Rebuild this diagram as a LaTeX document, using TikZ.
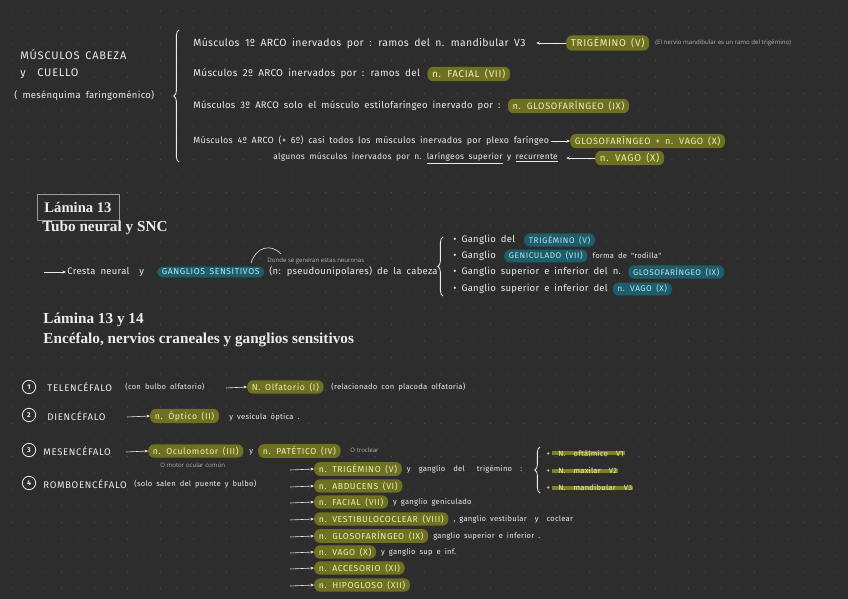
\documentclass[tikz,border=0pt]{standalone}
\usepackage{fontspec}
\setmainfont{Liberation Serif}
\newfontfamily\handfont{Fira Sans}[LetterSpace=3.0,WordSpace=1.8]
\newfontfamily\capfont{Fira Sans}[LetterSpace=7.0,WordSpace=1.6]
\newfontfamily\notefont{Open Sans}
\usetikzlibrary{arrows.meta,decorations.pathreplacing,positioning}
\definecolor{bgdark}{HTML}{2D2D2D}
\definecolor{dotgray}{HTML}{4E4E4E}
\definecolor{handwhite}{HTML}{ECECEC}
\definecolor{notegray}{HTML}{B4B4B4}
\definecolor{olivefill}{HTML}{6E7122}
\definecolor{olivebar}{HTML}{7F8224}
\definecolor{olivetext}{HTML}{EEF0B4}
\definecolor{tealfill}{HTML}{1E5E6C}
\definecolor{tealtext}{HTML}{B8E6EE}
\definecolor{boxgray}{HTML}{9C9C9C}
\tikzset{
  hand/.style={inner sep=1pt, anchor=west, text=handwhite, font=\handfont\fontsize{8.1}{9}\selectfont},
  handsm/.style={hand, font=\handfont\fontsize{6.5}{7}\selectfont},
  handcap/.style={hand, font=\capfont\fontsize{8.2}{9}\selectfont},
  handbig/.style={hand, font=\capfont\fontsize{9.4}{10}\selectfont},
  note/.style={inner sep=1pt, anchor=west, text=notegray, font=\notefont\fontsize{5.2}{6}\selectfont},
  hlolive/.style={hand, fill=olivefill, text=olivetext, rounded corners=5pt,
                  inner xsep=4pt, inner ysep=2pt, font=\capfont\fontsize{7.4}{8}\selectfont},
  hltop/.style={hlolive, font=\capfont\fontsize{8.4}{9}\selectfont},
  hlteal/.style={hlolive, fill=tealfill, text=tealtext, font=\capfont\fontsize{7}{8}\selectfont},
  subbar/.style={handsm, text=olivetext, path picture={\fill[olivebar]
      ([xshift=6pt,yshift=1.6pt]path picture bounding box.south west) rectangle
      ([yshift=5pt]path picture bounding box.south east);}},
  heading/.style={anchor=west, inner sep=1pt, text=handwhite, font=\bfseries\fontsize{13}{15}\selectfont},
  lamina/.style={draw=boxgray, line width=0.6pt, text=handwhite, font=\bfseries\fontsize{12.5}{14}\selectfont,
                 minimum width=2.46cm, minimum height=0.78cm},
  circnum/.style={circle, draw=handwhite, line width=0.7pt, minimum size=0.4cm, inner sep=0pt,
                  text=handwhite, font=\handfont\bfseries\fontsize{6}{7}\selectfont},
  flow/.style={-{Stealth[length=3pt,width=2.6pt]}, line width=0.5pt, draw=handwhite},
  bracel/.style={decorate, decoration={brace, amplitude=4.5pt}, line width=0.7pt, draw=handwhite},
  thinline/.style={line width=0.5pt, draw=handwhite}
}

\begin{document}
\begin{tikzpicture}[x=0.03cm,y=-0.03cm]

%% Paper and dot grid
\fill[bgdark] (0,0) rectangle (848,599);
\useasboundingbox (0,0) rectangle (848,599);
\foreach \i in {0,...,50} {
  \foreach \j in {0,...,35} { \fill[dotgray] (12+16.5*\i, 11+16.5*\j) circle[radius=0.55pt]; }
}

%% Músculos cabeza y cuello
\node[handbig] (mtitle) at (19,55) {MÚSCULOS CABEZA};
\node[handbig] (my)     at (19,75) {y};
\node[handbig] (mcuello) at (36,73) {CUELLO};
\node[hand]    (mesen)  at (13,96) {( mesénquima faringoménico)};
\draw[bracel] (179,162) -- (179,30);

%   1er arco
\node[hand, font=\handfont\fontsize{8.9}{10}\selectfont] (arco1) at (192,43)
  {Músculos 1º ARCO inervados por : ramos del n. mandibular V3};
\node[hltop]   (trig1)  at (566,43) {TRIGÉMINO (V)};
\node[note]    (trignote) at (654,43) {(El nervio mandibular es un ramo del trigémino)};
\draw[flow, shorten >=8pt] (trig1.west) -- (arco1.east);
%   2o arco
\node[hand, font=\handfont\fontsize{8.5}{10}\selectfont] (arco2) at (192,74)
  {Músculos 2º ARCO inervados por : ramos del};
\node[hltop, right=5pt of arco2] (facial1) {n. FACIAL (VII)};
%   3er arco
\node[hand, font=\handfont\fontsize{8.1}{10}\selectfont] (arco3) at (192,106)
  {Músculos 3º ARCO solo el músculo estilofaríngeo inervado por :};
\node[hltop, font=\capfont\fontsize{7.9}{9}\selectfont, right=5pt of arco3] (glosol) {n. GLOSOFARÍNGEO (IX)};
%   4o arco
\node[hand, font=\handfont\fontsize{7.6}{9}\selectfont] (arco4) at (192,141)
  {Músculos 4º ARCO (+ 6º) casi todos los músculos inervados por plexo faríngeo};
\node[hltop, font=\capfont\fontsize{7.8}{9}\selectfont] (glovago) at (570,141) {GLOSOFARÍNGEO + n. VAGO (X)};
\draw[flow] (arco4.east) -- (glovago.west);
\node[handsm, font=\handfont\fontsize{7.2}{8}\selectfont] (arco5) at (272,158)
  {algunos músculos inervados por n. \underline{laríngeos superior} y \underline{recurrente}};
\node[hltop]   (vago1)  at (595,158) {n. VAGO (X)};
\draw[flow, shorten >=6pt] (vago1.west) -- (arco5.east);

%% Lámina 13
\node[lamina]  (lam13)  at (78,207) {Lámina 13};
\node[heading] (tubo)   at (41,228) {Tubo neural y SNC};

\coordinate (cstart) at (44,272);
\node[hand]    (cresta) at (66,272) {Cresta neural \ y};
\node[hlteal, font=\capfont\fontsize{7.3}{8}\selectfont] (gsens) at (157,272) {GANGLIOS SENSITIVOS};
\node[hand, right=3pt of gsens] (pseudo) {(n: pseudounipolares) de la cabeza};
\draw[flow] (cstart) -- (cresta.west);
\node[note]    (dnote)  at (266,261) {Donde se generan estas neuronas};
\coordinate (arcA) at (251,263);
\coordinate (arcB) at (281,254);
\draw[thinline] (arcA) .. controls (256,247) and (271,243) .. (arcB);

\draw[bracel] (443,296) -- (443,237);
\node[hand]   (gan1)  at (452,240) {• Ganglio del};
\node[hlteal] (gan1h) at (524,240) {TRIGÉMINO (V)};
\node[hand]   (gan2)  at (452,256) {• Ganglio};
\node[hlteal] (gan2h) at (504,256) {GENICULADO (VII)};
\node[handsm, right=3pt of gan2h] (gan2r) {forma de "rodilla"};
\node[hand]   (gan3)  at (452,272) {• Ganglio superior e inferior del n.};
\node[hlteal, right=5pt of gan3] (gan3h) {GLOSOFARÍNGEO (IX)};
\node[hand]   (gan4)  at (452,289) {• Ganglio superior e inferior del};
\node[hlteal, right=3pt of gan4] (gan4h) {n. VAGO (X)};

%% Lámina 13 y 14
\node[heading] (lam14) at (42,320) {Lámina 13 y 14};
\node[heading] (encef) at (42,340) {Encéfalo, nervios craneales y ganglios sensitivos};

%   1 telencéfalo
\node[circnum] (c1) at (29,387) {1};
\node[handcap] (tele)  at (46,387) {TELENCÉFALO};
\node[handsm]  (teleb) at (124,387) {(con bulbo olfatorio)};
\coordinate (a1) at (226,388);
\node[hlolive] (olf)   at (247,387) {N. Olfatorio (I)};
\node[handsm]  (olfr)  at (330,387) {(relacionado con placoda olfatoria)};
\draw[flow] (a1) -- (olf.west);
%   2 diencéfalo
\node[circnum] (c2) at (29,415) {2};
\node[handcap] (dien)  at (46,416) {DIENCÉFALO};
\coordinate (a2) at (127,417);
\node[hlolive] (opt)   at (150,416) {n. Óptico (II)};
\node[handsm]  (optr)  at (228,417) {y vesícula óptica .};
\draw[flow] (a2) -- (opt.west);
%   3 mesencéfalo
\node[circnum] (c3) at (29,450) {3};
\node[handcap] (mesc)  at (42,451) {MESENCÉFALO};
\coordinate (a3) at (126,452);
\node[hlolive] (ocul)  at (148,451) {n. Oculomotor (III)};
\node[handsm]  (ocy)   at (248,452) {y};
\node[hlolive] (pat)   at (258,451) {n. PATÉTICO (IV)};
\node[note]    (troc)  at (349,450) {O troclear};
\node[note]    (moc)   at (159,465) {O motor ocular común};
\draw[flow] (a3) -- (ocul.west);
%   4 romboencéfalo
\node[circnum] (c4) at (29,483) {4};
\node[handcap] (romb)  at (42,484) {ROMBOENCÉFALO};
\node[handsm]  (rombr) at (133,484) {(solo salen del puente y bulbo)};

\foreach \y/\nm/\lab/\rest in {469/tri/{n. TRIGÉMINO (V)}/{y \ ganglio \ del \ \ trigémino \ :},
    486/abd/{n. ABDUCENS (VI)}/{},
    502/fac/{n. FACIAL (VII)}/{y ganglio geniculado},
    519/ves/{n. VESTIBULOCOCLEAR (VIII)}/{, ganglio vestibular \ y \ coclear},
    536/glo/{n. GLOSOFARÍNGEO (IX)}/{ganglio superior e inferior .},
    552/vag/{n. VAGO (X)}/{y ganglio sup e inf.},
    568/acc/{n. ACCESORIO (XI)}/{},
    585/hip/{n. HIPOGLOSO (XII)}/{}} {
  \coordinate (s\nm) at (290,\y+1);
  \node[hlolive] (r\nm) at (314,\y) {\lab};
  \node[handsm, right=3pt of r\nm] (t\nm) {\rest};
  \draw[flow] (s\nm) -- (r\nm.west);
}

%   ramas del trigémino
\draw[bracel] (540,493) -- (540,447);
\node[subbar] (v1) at (545,453) {+ \ N. \ oftálmico \ V1};
\node[subbar] (v2) at (545,471) {+ \ N. \ maxilar \ V2};
\node[subbar] (v3) at (545,488) {+ \ N. \ mandibular \ V3};

\end{tikzpicture}
\end{document}
